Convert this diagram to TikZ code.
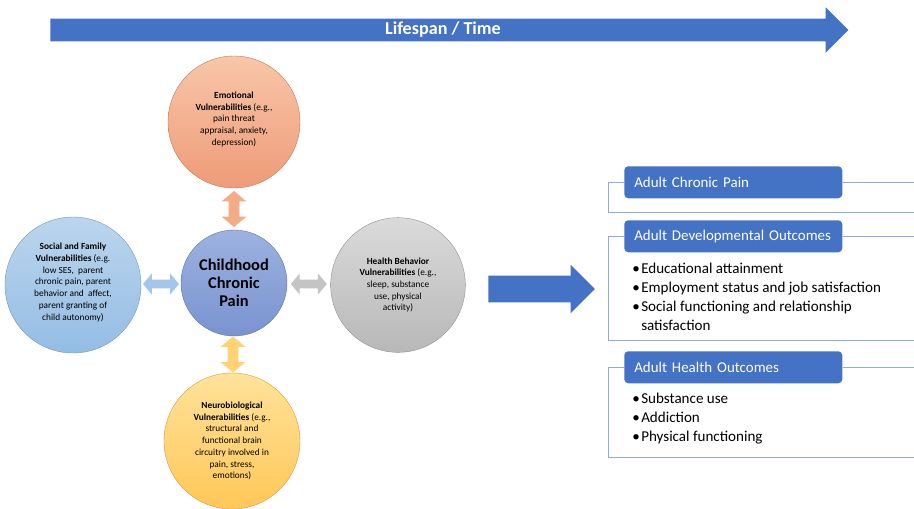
\documentclass[tikz,border=0pt]{standalone}
\usepackage{fontspec}
\setmainfont{Carlito}
\usetikzlibrary{shapes.arrows,positioning,calc}
\definecolor{cTime}{HTML}{4472C4}
\definecolor{cLine}{HTML}{8FAADC}
\definecolor{cEmoTop}{HTML}{F8C6A8}
\definecolor{cEmoBot}{HTML}{EE9B78}
\definecolor{cSocTop}{HTML}{BBD5EE}
\definecolor{cSocBot}{HTML}{94BDE4}
\definecolor{cChildTop}{HTML}{9DB2E0}
\definecolor{cChildBot}{HTML}{7A93D0}
\definecolor{cHealthTop}{HTML}{DADADA}
\definecolor{cHealthBot}{HTML}{B8B8B8}
\definecolor{cNeuroTop}{HTML}{FFE29A}
\definecolor{cNeuroBot}{HTML}{FFC758}
\definecolor{cEmoArr}{HTML}{F5AC86}
\definecolor{cSocArr}{HTML}{A4C6EA}
\definecolor{cHealthArr}{HTML}{C4C4C4}
\definecolor{cNeuroArr}{HTML}{FFD273}
\newcommand{\bitem}{\makebox[6.75pt][l]{\textbullet}}

\begin{document}
\begin{tikzpicture}[
    x=0.75pt, y=-0.75pt,
    vuln/.style={circle, align=center, inner sep=0pt, font=\fontsize{7}{8.8}\selectfont, draw=#1!80!black, line width=0.3pt},
    dbl/.style={double arrow, fill=#1, inner sep=3.75pt, minimum width=18pt, double arrow head extend=5.25pt, double arrow tip angle=100, minimum height=27pt},
    ttl/.style={rectangle, rounded corners=3pt, fill=cTime, text=white, anchor=north west, align=left, text width=148.5pt, inner xsep=7.5pt, minimum height=24pt, font=\fontsize{11.2}{13}\selectfont},
    frame/.style={draw=cLine, line width=0.7pt},
    blist/.style={anchor=north west, align=left, inner sep=0pt, font=\fontsize{11.3}{14.3}\selectfont}
]
\useasboundingbox (0,0) rectangle (914,508);
\clip (0,0) rectangle (914,508);
\fill[white] (0,0) rectangle (914,508);

% time line
\node[single arrow, fill=cTime, anchor=tail, minimum height=598.5pt, inner ysep=8.25pt, inner xsep=0pt, single arrow head extend=8.5pt] (time) at (50,30) {};
\node[text=white, font=\fontsize{13.6}{15}\selectfont\bfseries] (timetext) at (443,30) {Lifespan / Time};

% circles
\node[vuln=cChildBot, minimum size=79.5pt, top color=cChildTop, bottom color=cChildBot, font=\fontsize{12.3}{13.5}\selectfont\bfseries] (child) at (234,283) {Childhood\\Chronic\\Pain};
\node[vuln=cEmoBot, minimum size=99pt, top color=cEmoTop, bottom color=cEmoBot, text depth=5pt] (emo) at (234,122) {\textbf{Emotional}\\\textbf{Vulnerabilities} (e.g.,\\pain threat\\appraisal, anxiety,\\depression)};
\node[vuln=cSocBot, minimum size=102pt, top color=cSocTop, bottom color=cSocBot, text depth=5pt] (soc) at (73,285) {\textbf{Social and Family}\\\textbf{Vulnerabilities} (e.g.\\low SES,\ \ parent\\chronic pain, parent\\behavior and\ \ affect,\\parent granting of\\child autonomy)};
\node[vuln=cHealthBot, minimum size=101pt, top color=cHealthTop, bottom color=cHealthBot] (health) at (398,285) {\textbf{Health Behavior}\\\textbf{Vulnerabilities} (e.g.,\\sleep, substance\\use, physical\\activity)};
\node[vuln=cNeuroBot, minimum size=102pt, top color=cNeuroTop, bottom color=cNeuroBot] (neuro) at (232,441) {\textbf{Neurobiological}\\\textbf{Vulnerabilities} (e.g.,\\structural and\\functional brain\\circuitry involved in\\pain, stress,\\emotions)};

% links
\node[dbl=cEmoArr, shape border rotate=90] (emo2child) at ($(emo.south)!0.5!(child.north)$) {};
\node[dbl=cNeuroArr, shape border rotate=90] (neuro2child) at ($(child.south)!0.5!(neuro.north)$) {};
\node[dbl=cSocArr, inner sep=3.1pt, minimum width=15.5pt, double arrow head extend=4.6pt] (soc2child) at ($(soc.east)!0.5!(child.west)$) {};
\node[dbl=cHealthArr, inner sep=3.1pt, minimum width=15.5pt, double arrow head extend=4.6pt] (health2child) at ($(child.east)!0.5!(health.west)$) {};

% outcome arrow
\node[single arrow, fill=cTime, anchor=tail, minimum height=80pt, inner ysep=9.75pt, inner xsep=0pt, minimum width=36pt, single arrow head extend=8.25pt] (flow) at (488,289) {};

% outcomes
\coordinate (edge) at (914,0);
\node[ttl] (acp) at (624,166) {Adult Chronic Pain};
\node[ttl] (ado) at (624,220) {Adult Developmental Outcomes};
\node[ttl] (aho) at (624,351) {Adult Health Outcomes};

\draw[frame] (acp.east) -- (acp.east -| edge);
\draw[frame] (acp.west) -- ++(-16,0) -- ++(0,30) -- ++(320,0);
\draw[frame] (ado.east) -- (ado.east -| edge);
\draw[frame] (ado.west) -- ++(-16,0) -- ++(0,104) -- ++(320,0);
\draw[frame] (aho.east) -- (aho.east -| edge);
\draw[frame] (aho.west) -- ++(-16,0) -- ++(0,90) -- ++(320,0);

\node[blist] (adolist) at (632,263) {\bitem Educational attainment\\\bitem Employment status and job satisfaction\\\bitem Social functioning and relationship\\\hspace*{6.75pt}satisfaction};
\node[blist] (aholist) at (632,393) {\bitem Substance use\\\bitem Addiction\\\bitem Physical functioning};

\end{tikzpicture}
\end{document}
